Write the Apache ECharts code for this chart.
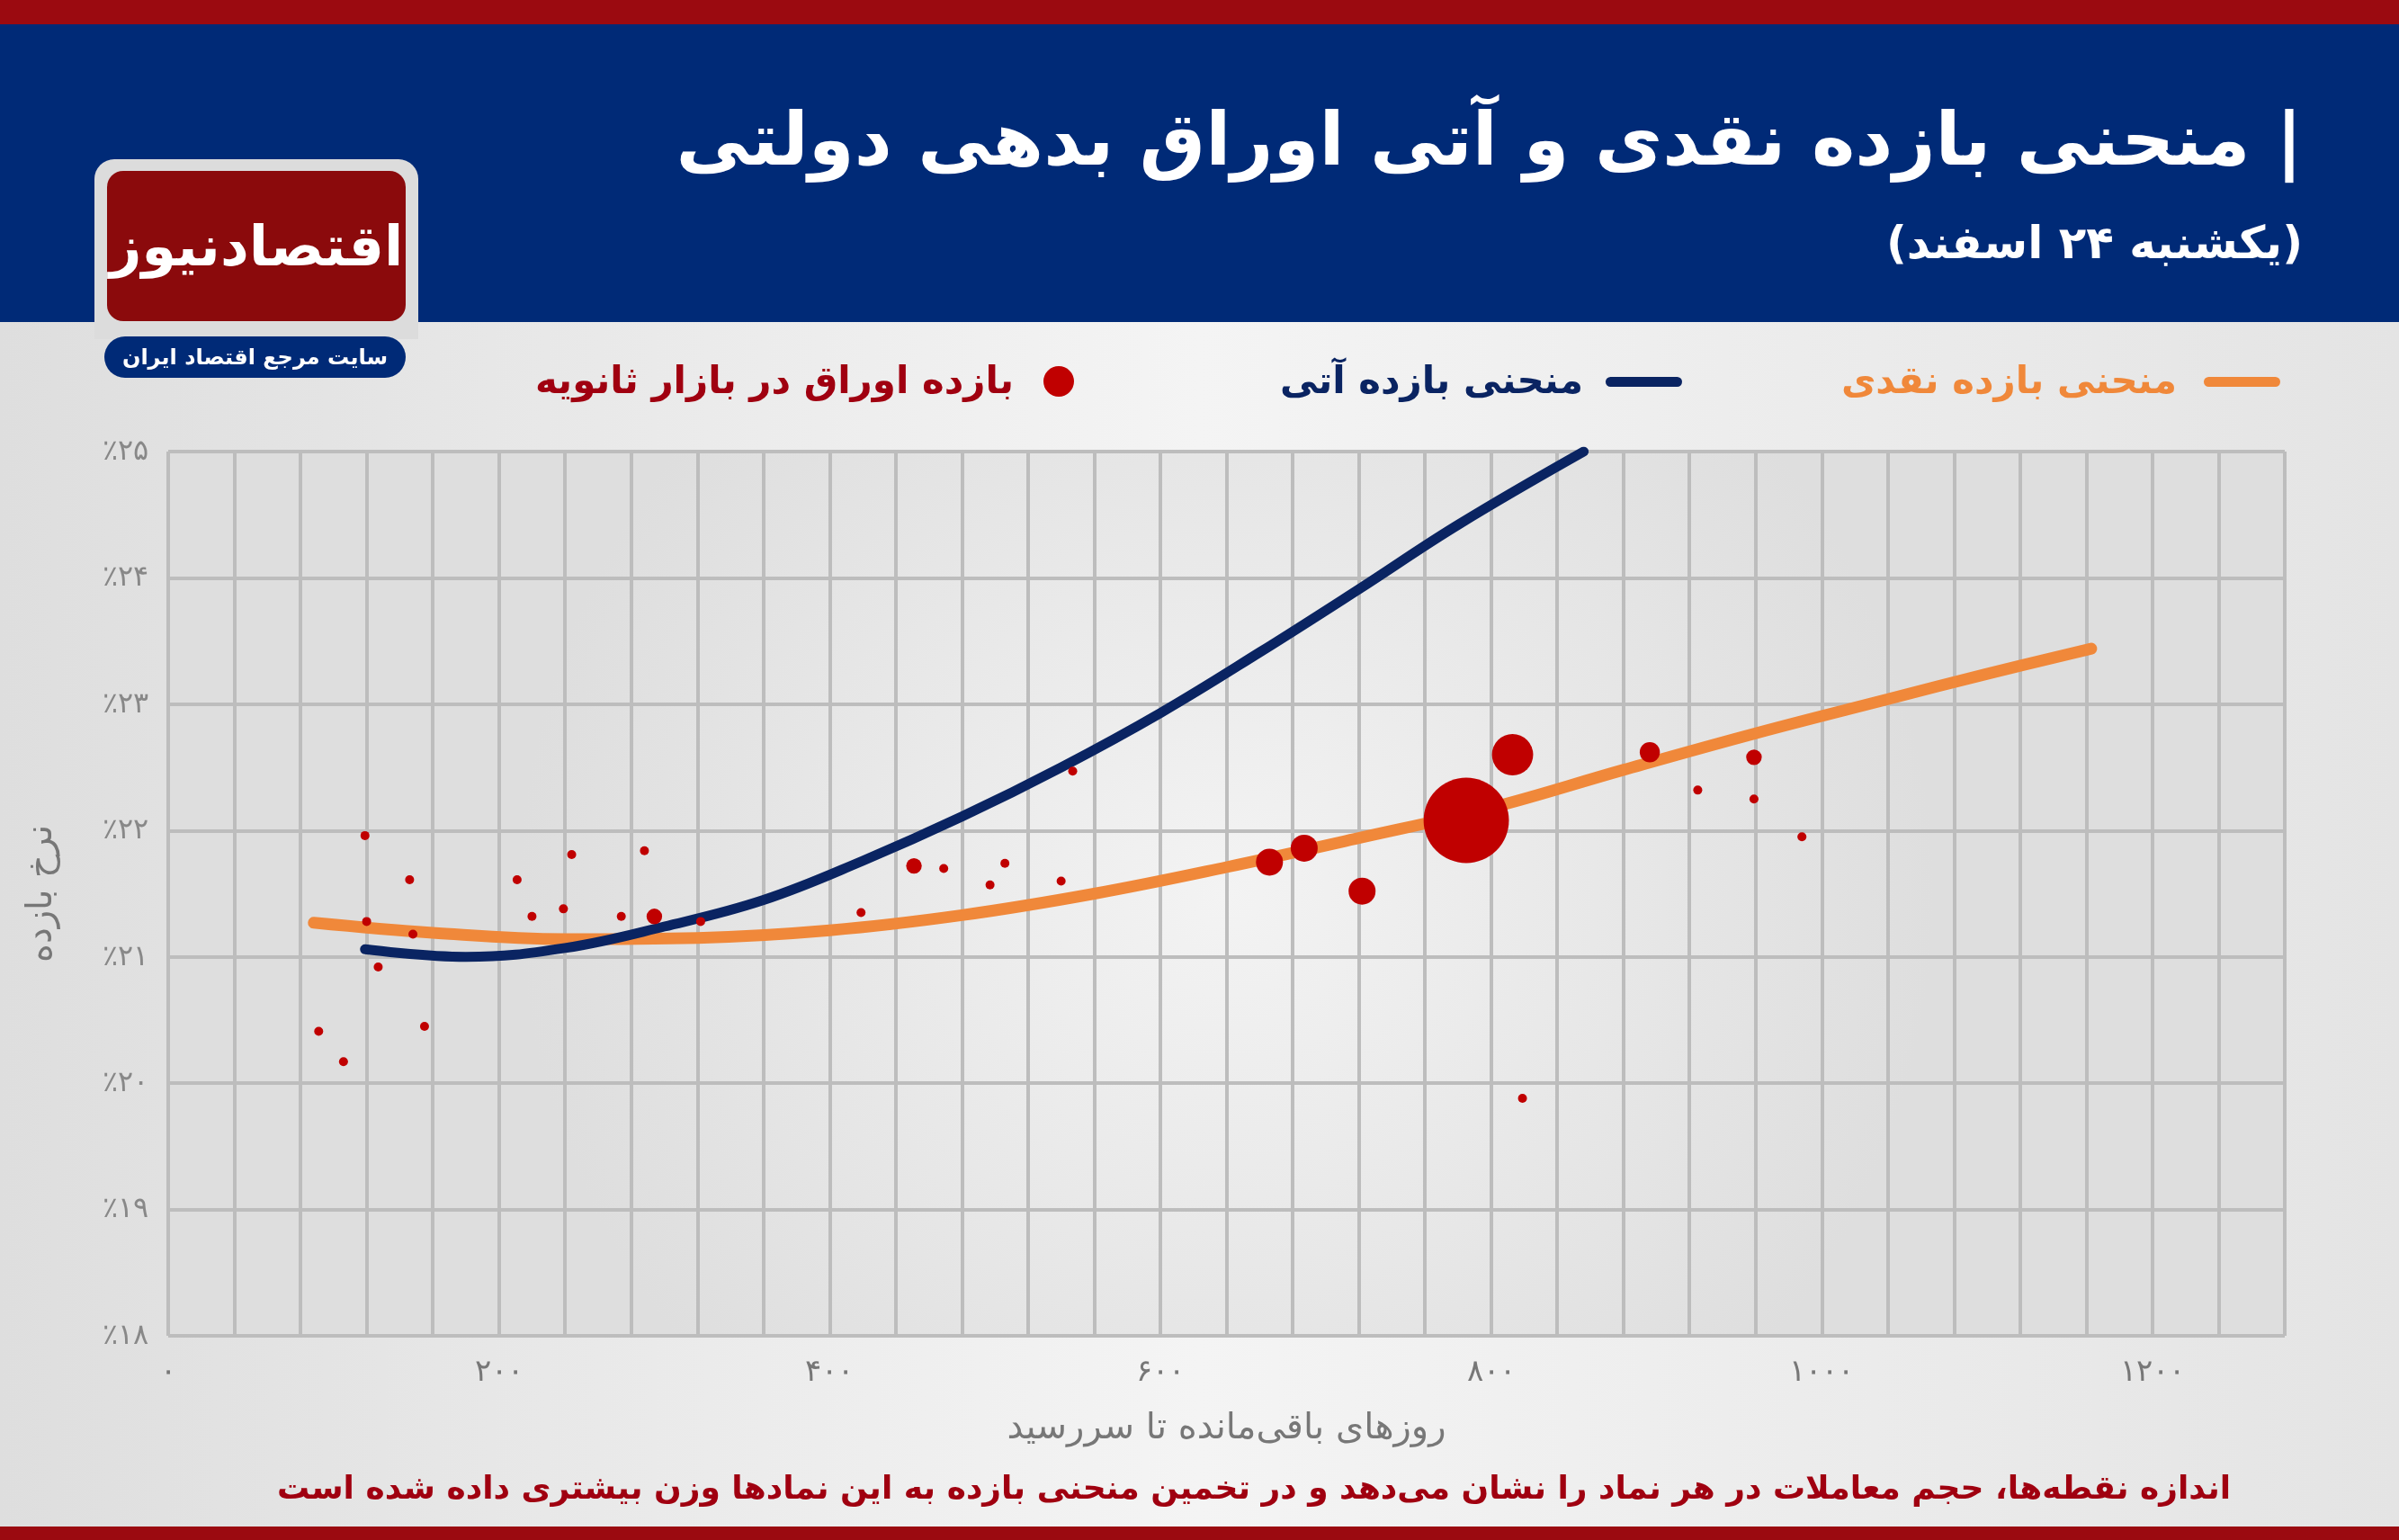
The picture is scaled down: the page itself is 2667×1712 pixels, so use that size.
<!DOCTYPE html>
<html><head><meta charset="utf-8">
<script src="https://cdn.jsdelivr.net/npm/echarts@6/dist/echarts.min.js"></script>
<style>
html,body{margin:0;padding:0;width:2667px;height:1712px;overflow:hidden;font-family:"DejaVu Sans","Noto Sans",sans-serif;}
#bg{position:absolute;left:0;top:0;width:2667px;height:1712px;background:linear-gradient(90deg,#dedede 0%,#f4f4f4 50%,#e4e4e4 100%);}
#topbar{position:absolute;left:0;top:0;width:2667px;height:27px;background:#9b0a10;}
#header{position:absolute;left:0;top:27px;width:2667px;height:331px;background:#002a77;}
#botbar{position:absolute;left:0;top:1697px;width:2667px;height:15px;background:#9b0a10;}
#chart{position:absolute;left:0;top:0;width:2667px;height:1712px;}
.t{position:absolute;direction:rtl;white-space:nowrap;font-weight:bold;}
</style></head><body>
<div id="bg"></div>
<div id="header"></div>
<div id="topbar"></div>
<div id="botbar"></div>
<div id="chart"></div>
<div class="t" style="right:107px;top:114px;font-size:82px;color:#fff;line-height:1;">| منحنی بازده نقدی و آتی اوراق بدهی دولتی</div>
<div class="t" style="right:107px;top:245px;font-size:50px;color:#fff;line-height:1;">(یکشنبه ۲۴ اسفند)</div>
<div style="position:absolute;left:105px;top:177px;width:360px;height:200px;background:#dcdcdc;border-radius:22px 22px 0 0;"></div>
<div style="position:absolute;left:119px;top:190px;width:332px;height:167px;background:#8b0a0c;border-radius:18px;"></div>
<div class="t" style="left:119px;top:190px;width:332px;height:167px;font-size:62px;color:#fff;text-align:center;line-height:167px;">اقتصادنیوز</div>
<div class="t" style="left:116px;top:374px;width:335px;height:46px;background:#002a77;border-radius:23px;font-size:24px;color:#fff;text-align:center;line-height:46px;">سایت مرجع اقتصاد ایران</div>
<div style="position:absolute;left:2450px;top:419px;width:85px;height:11px;background:#f0883a;border-radius:6px;"></div>
<div class="t" style="right:247px;top:398px;font-size:42px;color:#f0883a;">منحنی بازده نقدی</div>
<div style="position:absolute;left:1785px;top:419px;width:85px;height:11px;background:#0a2462;border-radius:6px;"></div>
<div class="t" style="right:907px;top:398px;font-size:42px;color:#0a2462;">منحنی بازده آتی</div>
<div style="position:absolute;left:1160px;top:407px;width:34px;height:34px;background:#c00000;border-radius:50%;"></div>
<div class="t" style="right:1540px;top:398px;font-size:42px;color:#a00010;">بازده اوراق در بازار ثانویه</div>
<div class="t" style="right:187px;top:1633px;font-size:36px;color:#a00010;">اندازه نقطه‌ها، حجم معاملات در هر نماد را نشان می‌دهد و در تخمین منحنی بازده به این نمادها وزن بیشتری داده شده است</div>
<script>
// Secondary market bonds: [days to maturity, yield %]
const bondDays  = [91,106,119,120,127,146,148,155,211,220,239,244,274,288,294,322,419,451,469,497,506,540,547,666,687,722,785,813,819,896,925,959,959,988];
const bondYield = [20.41,20.17,21.96,21.28,20.92,21.61,21.18,20.45,21.61,21.32,21.38,21.81,21.32,21.84,21.32,21.28,21.35,21.72,21.70,21.57,21.74,21.60,22.47,21.75,21.86,21.52,22.08,22.60,19.88,22.62,22.32,22.25,22.58,21.95];
// relative trading volume (dot size)
const bondVolume = [1,1,1,1,1,1,1,1,1,1,1,1,1,1,3,1,1,3,1,1,1,1,1,9,9,9,90,21,1,5,1,1,3,1];
// Spot yield curve
const spotDays  = [88,160,240,320,400,480,560,640,720,800,880,960,1040,1100,1163];
const spotYield = [21.27,21.19,21.14,21.15,21.21,21.33,21.50,21.71,21.94,22.18,22.48,22.77,23.04,23.24,23.44];
// Futures yield curve
const futDays  = [119,180,240,300,360,420,480,540,600,660,720,780,856];
const futYield = [21.06,21.00,21.07,21.24,21.45,21.76,22.11,22.50,22.93,23.41,23.91,24.42,25.0];
const fa = ['۰','۱','۲','۳','۴','۵','۶','۷','۸','۹'];
const toFa = s => String(s).replace(/\d/g, d => fa[d]);
const zip = (a,b) => a.map((v,i)=>[v,b[i]]);
const c = echarts.init(document.getElementById('chart'));
c.setOption({
  animation:false,
  grid:{left:187,right:127,top:502,bottom:227,show:true,backgroundColor:{type:'radial',x:0.5,y:0.5,r:0.8,colorStops:[{offset:0,color:'#f3f3f3'},{offset:1,color:'#dedede'}]},borderWidth:0},
  xAxis:{type:'value',min:0,max:1280,interval:40,
    name:'روزهای باقی‌مانده تا سررسید',nameLocation:'middle',nameGap:84,
    nameTextStyle:{fontSize:40,color:'#777',fontFamily:'DejaVu Sans'},
    axisLine:{show:false},axisTick:{show:false},
    axisLabel:{fontSize:34,color:'#777',margin:24,formatter:v=>v%200===0?toFa(v):''},
    splitLine:{lineStyle:{color:'#bdbdbd',width:4}}},
  yAxis:{type:'value',min:18,max:25,interval:1,
    name:'نرخ بازده',nameLocation:'middle',nameGap:120,
    nameTextStyle:{fontSize:40,color:'#777',fontFamily:'DejaVu Sans'},
    axisLine:{show:false},axisTick:{show:false},
    axisLabel:{fontSize:32,color:'#888',margin:22,formatter:v=>'٪'+toFa(v)},
    splitLine:{lineStyle:{color:'#bdbdbd',width:4}}},
  series:[
    {type:'line',data:zip(spotDays,spotYield),smooth:0.4,symbol:'none',z:2,lineStyle:{color:'#f0883a',width:13,cap:'round'}},
    {type:'line',data:zip(futDays,futYield),smooth:0.4,symbol:'none',z:3,lineStyle:{color:'#0a2462',width:11,cap:'round'}},
    {type:'scatter',z:5,data:bondDays.map((d,i)=>[d,bondYield[i],bondVolume[i]]),
     symbolSize:v=>10*Math.sqrt(v[2]),itemStyle:{color:'#c00000',opacity:1}}
  ]
});
</script>
</body></html>
